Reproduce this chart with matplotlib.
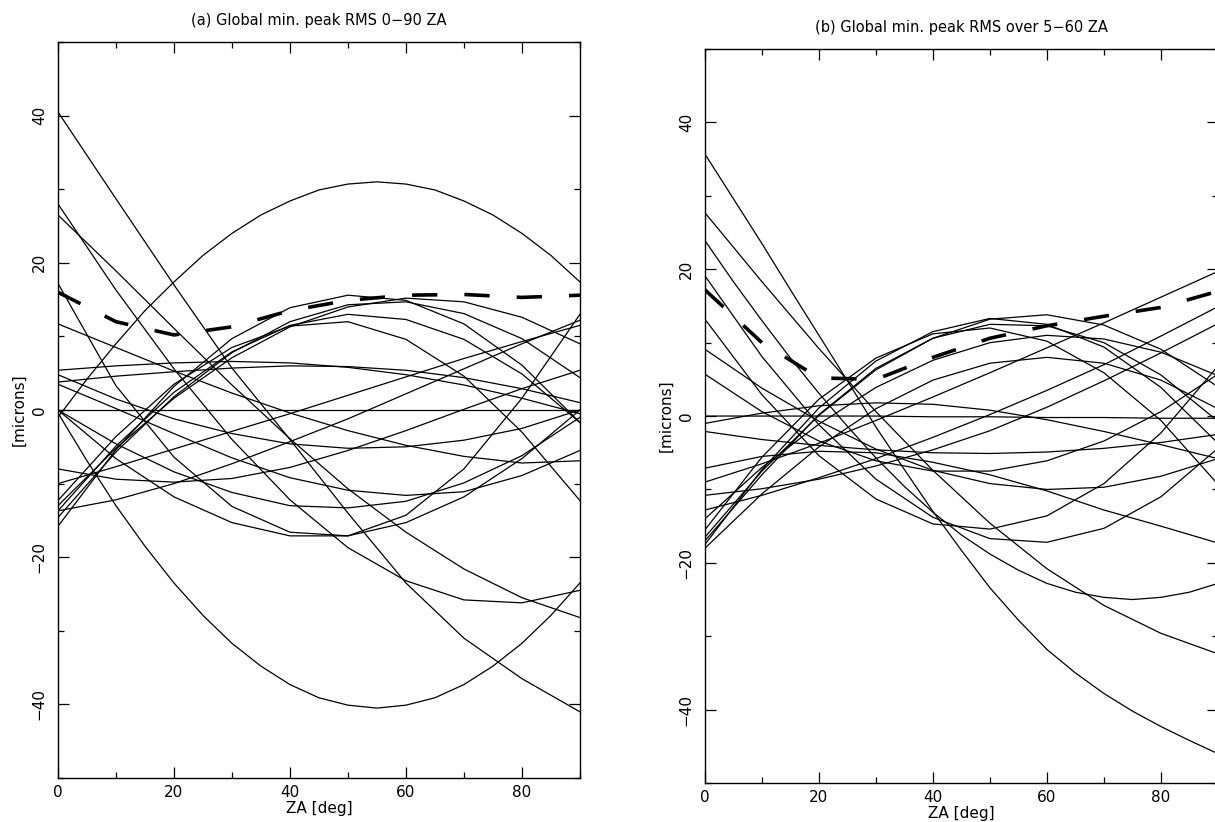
import numpy as np
import matplotlib
matplotlib.use("Agg")
import matplotlib.pyplot as plt
from matplotlib.ticker import MultipleLocator

# zenith angle samples (deg)
za = [0, 10, 20, 30, 40, 50, 60, 70, 80, 90]
# finer sampling for the strongly curved arches
za_fine = [0, 5, 10, 15, 20, 25, 30, 35, 40, 45, 50, 55, 60, 65, 70, 75, 80, 85, 90]

# ---------------- panel (a): global min. peak RMS 0-90 ZA ----------------
a_dashed = [16.0, 12.0, 10.2, 11.3, 13.5, 14.9, 15.6, 15.7, 15.3, 15.6]

a_arches = [
    [-1.0, 4.2, 9.0, 13.5, 17.4, 21.0, 24.0, 26.5, 28.4, 29.9,
     30.7, 31.0, 30.7, 29.9, 28.4, 26.5, 24.0, 21.0, 17.4],
    [-0.4, -6.9, -13.0, -18.5, -23.5, -27.9, -31.7, -34.8, -37.3, -39.1,
     -40.1, -40.5, -40.1, -39.1, -37.3, -34.8, -31.7, -27.9, -23.5],
]

a_curves = [
    [40.5, 28.7, 17.0, 5.7, -4.0, -14.0, -23.5, -31.0, -36.5, -41.0],
    [28.0, 16.3, 5.6, -4.0, -12.2, -18.7, -23.2, -25.8, -26.2, -24.5],
    [26.5, 18.9, 11.1, 3.4, -3.9, -10.7, -16.6, -21.6, -25.5, -28.2],
    [17.2, 3.3, -6.4, -13.1, -16.6, -17.1, -14.3, -8.0, 1.6, 13.0],
    [11.7, 8.5, 5.3, 2.3, -0.4, -2.8, -4.8, -6.3, -7.2, -6.9],
    [5.4, 6.0, 6.4, 6.6, 6.4, 5.8, 4.8, 3.4, 1.6, -0.5],
    [3.8, 4.6, 5.2, 5.7, 6.0, 5.9, 5.4, 4.4, 2.9, 1.0],
    [0.0, 0.0, 0.0, 0.0, 0.0, 0.0, 0.0, 0.0, 0.0, 0.0],
    [4.8, 1.5, -1.2, -3.2, -4.6, -5.2, -5.0, -4.1, -2.5, 0.0],
    [-8.0, -9.4, -9.8, -9.3, -7.8, -5.5, -2.8, 0.1, 2.9, 5.4],
    [3.5, 0.2, -3.2, -6.5, -9.2, -10.9, -11.6, -11.1, -8.9, -5.5],
    [0.0, -4.6, -8.4, -11.2, -13.0, -13.3, -12.4, -9.9, -6.2, -1.0],
    [0.0, -6.6, -11.8, -15.3, -17.1, -17.1, -15.3, -11.8, -6.6, 0.0],
    [-15.8, -5.4, 3.2, 9.7, 13.9, 15.6, 14.9, 11.7, 6.1, -1.7],
    [-14.6, -5.7, 1.8, 7.8, 12.0, 14.3, 14.7, 13.1, 9.7, 4.4],
    [-13.7, -4.9, 2.4, 7.9, 11.5, 13.0, 12.3, 9.6, 4.9, -1.7],
    [-12.3, -3.6, 3.5, 8.5, 11.4, 12.0, 9.6, 4.6, -3.0, -12.3],
    [-13.0, -5.2, 1.6, 7.1, 11.3, 14.0, 15.2, 14.7, 12.6, 9.0],
    [-13.7, -12.2, -10.0, -7.3, -4.3, -1.2, 2.2, 5.6, 9.0, 12.2],
    [-10.0, -7.7, -5.3, -2.9, -0.5, 2.0, 4.5, 7.0, 9.3, 11.5],
]

# ---------------- panel (b): global min. peak RMS over 5-60 ZA ----------------
b_dashed = [17.2, 10.0, 5.2, 5.0, 8.0, 10.6, 12.3, 13.6, 14.8, 17.0]

b_arches = [
    [35.7, 29.6, 23.5, 17.2, 11.0, 4.8, -1.5, -7.3, -13.0, -18.3,
     -23.4, -27.8, -31.8, -35.0, -37.8, -40.2, -42.3, -44.2, -46.0],
    [23.9, 18.3, 13.0, 7.9, 3.1, -1.4, -5.7, -9.6, -13.1, -16.2,
     -18.8, -21.0, -22.8, -24.0, -24.7, -25.0, -24.7, -24.0, -22.8],
]

b_curves = [
    [27.7, 18.3, 9.2, 0.6, -7.4, -14.6, -20.8, -25.8, -29.6, -32.4],
    [19.1, 8.1, -1.2, -8.6, -13.8, -16.7, -17.2, -15.3, -11.0, -4.4],
    [13.2, 2.9, -5.4, -11.3, -14.7, -15.4, -13.6, -9.2, -2.3, 6.8],
    [9.1, 3.8, -0.7, -4.5, -7.4, -9.2, -10.0, -9.7, -8.2, -5.8],
    [5.7, 0.6, -3.4, -6.1, -7.5, -7.5, -6.1, -3.4, 0.6, 5.7],
    [0.0, 0.0, 0.0, 0.0, -0.1, -0.1, -0.2, -0.2, -0.3, -0.3],
    [-1.0, 0.4, 1.4, 1.8, 1.6, 0.8, -0.5, -2.1, -3.9, -5.8],
    [-2.1, -3.2, -4.0, -4.6, -5.0, -5.1, -4.9, -4.4, -3.6, -2.5],
    [-7.1, -5.5, -4.8, -5.0, -6.3, -8.0, -10.2, -12.8, -15.0, -17.3],
    [-17.5, -7.3, 1.1, 7.5, 11.5, 13.3, 12.5, 9.4, 3.9, -3.7],
    [-16.5, -7.5, 0.1, 6.3, 10.6, 13.2, 13.8, 12.4, 9.1, 4.0],
    [-15.5, -5.6, 2.3, 7.9, 11.2, 12.0, 10.2, 5.9, -0.6, -9.3],
    [-14.0, -7.0, -1.1, 3.9, 7.6, 10.0, 11.0, 10.5, 8.7, 5.5],
    [-18.0, -10.6, -4.2, 1.0, 4.9, 7.2, 8.0, 7.2, 4.9, 1.0],
    [-17.0, -8.0, 0.2, 6.5, 10.6, 12.5, 12.3, 10.0, 5.6, -0.7],
    [-9.0, -6.5, -3.7, -0.6, 2.6, 5.9, 9.3, 12.7, 16.2, 19.7],
    [-12.8, -10.8, -8.4, -5.8, -2.9, 0.2, 3.5, 7.0, 10.9, 14.9],
    [-10.8, -9.9, -8.6, -6.8, -4.6, -2.0, 1.2, 4.8, 8.6, 12.6],
]

titles = ["(a) Global min. peak RMS 0\u221290 ZA",
          "(b) Global min. peak RMS over 5\u221260 ZA"]


def draw_panel(ax, curves, arches, dashed, title):
    for c in curves:
        ax.plot(za, c, color="black", lw=0.9)
    for c in arches:
        ax.plot(za_fine, c, color="black", lw=0.9)
    ax.plot(za, dashed, color="black", lw=2.6, dashes=(7, 7.5))
    ax.set_xlim(0, 90)
    ax.set_ylim(-50, 50)
    ax.xaxis.set_major_locator(MultipleLocator(20))
    ax.xaxis.set_minor_locator(MultipleLocator(10))
    ax.yaxis.set_major_locator(MultipleLocator(20))
    ax.yaxis.set_minor_locator(MultipleLocator(10))
    ax.tick_params(which="both", direction="in", top=True, right=True,
                   labelsize=11)
    ax.tick_params(axis="x", pad=5)
    ax.tick_params(axis="y", pad=8)
    ax.tick_params(which="major", length=8, width=0.9)
    ax.tick_params(which="minor", length=4, width=0.9)
    for lab in ax.get_yticklabels():
        lab.set_rotation(90)
        lab.set_va("center")
    for s in ax.spines.values():
        s.set_linewidth(1.0)
    ax.set_xlabel("ZA [deg]", fontsize=11, labelpad=1)
    ax.set_ylabel("[microns]", fontsize=11, labelpad=4)
    ax.set_title(title, fontsize=10.5, pad=12)


fig = plt.figure(figsize=(12.15, 8.22), dpi=100)
ax1 = fig.add_axes([0.0477, 0.0535, 0.4296, 0.8954])
ax2 = fig.add_axes([0.5802, 0.0474, 0.4222, 0.8929])

draw_panel(ax1, a_curves, a_arches, a_dashed, titles[0])
draw_panel(ax2, b_curves, b_arches, b_dashed, titles[1])

fig.savefig("out.png", dpi=100)
